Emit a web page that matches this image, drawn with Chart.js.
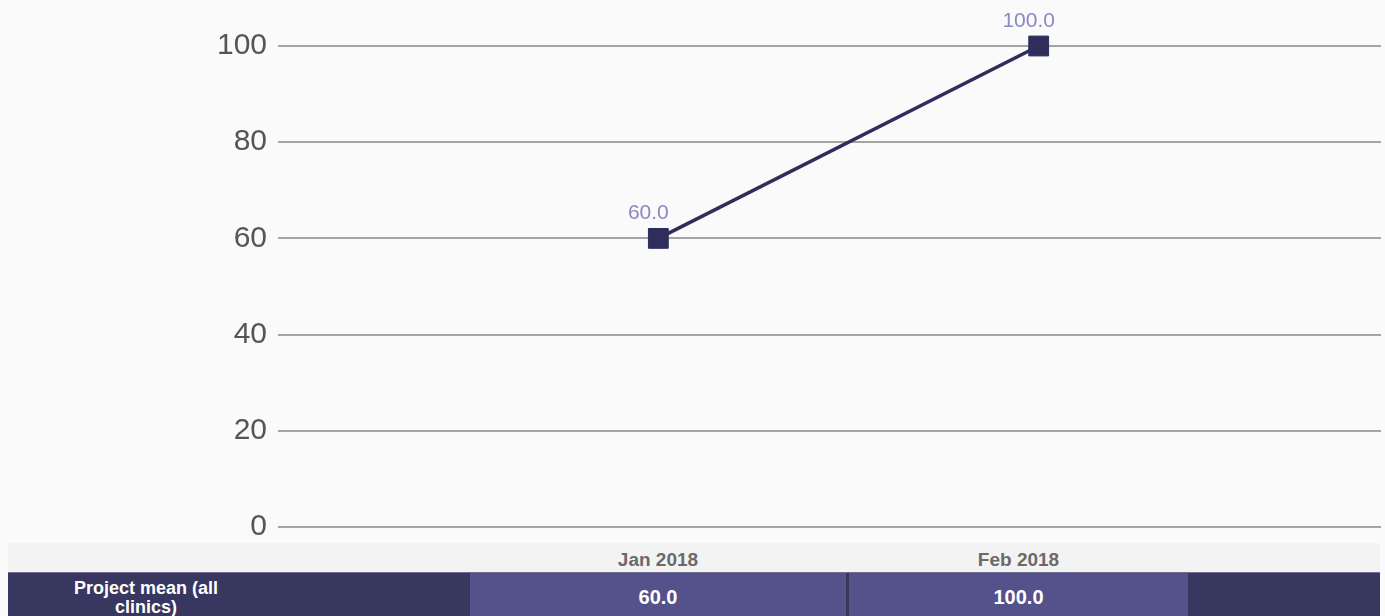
<!DOCTYPE html>
<html>
<head>
<meta charset="utf-8">
<script src="https://cdn.jsdelivr.net/npm/chart.js@4"></script>
<style>
  html, body { margin: 0; padding: 0; background: #fafafa; width: 1385px; height: 616px; overflow: hidden; }
  body { position: relative; font-family: "Liberation Sans", Arial, sans-serif; }
  #chart { position: absolute; left: 0; top: 0; }
  .hdr { position: absolute; top: 543px; left: 8px; width: 1372px; height: 29px; background: #f3f3f3; }
  .hdr-cell { position: absolute; top: 0; height: 29px; line-height: 33px; text-align: center; font-weight: bold; font-size: 19px; color: #6a6a6a; }
  .row { position: absolute; top: 572px; left: 8px; width: 1372px; height: 50px; background: #38375f; border-top: 1px solid #6f6d92; box-sizing: border-box; }
  .row-label { position: absolute; left: 38px; top: 6px; width: 200px; text-align: center; font-weight: bold; font-size: 18px; line-height: 19px; color: #fff; }
  .row-cell { position: absolute; top: 0; height: 50px; background: #55518b; text-align: center; font-weight: bold; font-size: 20px; line-height: 48px; color: #fff; }
</style>
</head>
<body>
<canvas id="chart" width="1396" height="556"></canvas>
<div class="hdr" id="hdr"></div>
<div class="row" id="row"></div>
<script>
// Monthly project mean, one value per month
const categories = ['Jan 2018', 'Feb 2018'];
const projectMean = [60.0, 100.0];
const seriesName = 'Project mean (all clinics)';
const yTicks = [0, 20, 40, 60, 80, 100];

const lineColor = '#2f2d5c';
const labelColor = '#8b88c6';

// Writes each point's value just above its marker
const valueLabels = {
  id: 'valueLabels',
  afterDatasetsDraw(chart) {
    const ctx = chart.ctx;
    const meta = chart.getDatasetMeta(0);
    ctx.save();
    ctx.font = '21px "Liberation Sans", Arial, sans-serif';
    ctx.fillStyle = labelColor;
    ctx.textAlign = 'center';
    ctx.textBaseline = 'alphabetic';
    meta.data.forEach((pt, i) => {
      ctx.fillText(projectMean[i].toFixed(1), pt.x - 10, pt.y - 19);
    });
    ctx.restore();
  }
};

new Chart(document.getElementById('chart'), {
  type: 'line',
  data: {
    datasets: [{
      label: seriesName,
      data: projectMean.map((v, i) => ({ x: i + 1, y: v })),
      borderColor: lineColor,
      backgroundColor: lineColor,
      borderWidth: 3.5,
      pointStyle: 'rect',
      pointRadius: 14,
      pointHoverRadius: 14,
      pointBorderWidth: 1,
      pointBorderColor: lineColor,
      pointBackgroundColor: lineColor,
      tension: 0,
      clip: false
    }]
  },
  options: {
    responsive: false,
    animation: false,
    devicePixelRatio: 1,
    layout: { padding: { top: 46, bottom: 4, left: 0, right: 0 } },
    plugins: { legend: { display: false }, tooltip: { enabled: false } },
    scales: {
      x: {
        type: 'linear',
        display: false,
        min: 0,
        max: 2.9
      },
      y: {
        min: 0,
        max: 100,
        afterBuildTicks(scale) { scale.ticks = yTicks.map(v => ({ value: v })); },
        afterFit(scale) { scale.width = 278; },
        border: { display: false },
        grid: { color: '#a4a4a4', lineWidth: 2, drawTicks: false },
        ticks: {
          padding: 11,
          color: '#555555',
          font: { family: '"Liberation Sans", Arial, sans-serif', size: 30 }
        }
      }
    }
  },
  plugins: [valueLabels]
});

// Table under the chart: month headers and the value row
const colBounds = [[462, 838], [841, 1180]];
const hdr = document.getElementById('hdr');
const row = document.getElementById('row');
const lbl = document.createElement('div');
lbl.className = 'row-label';
lbl.textContent = seriesName;
row.appendChild(lbl);
categories.forEach((c, i) => {
  const [l, r] = colBounds[i];
  const h = document.createElement('div');
  h.className = 'hdr-cell';
  h.style.left = l + 'px';
  h.style.width = (r - l) + 'px';
  h.textContent = c;
  hdr.appendChild(h);
  const v = document.createElement('div');
  v.className = 'row-cell';
  v.style.left = l + 'px';
  v.style.width = (r - l) + 'px';
  v.textContent = projectMean[i].toFixed(1);
  row.appendChild(v);
});
</script>
</body>
</html>
